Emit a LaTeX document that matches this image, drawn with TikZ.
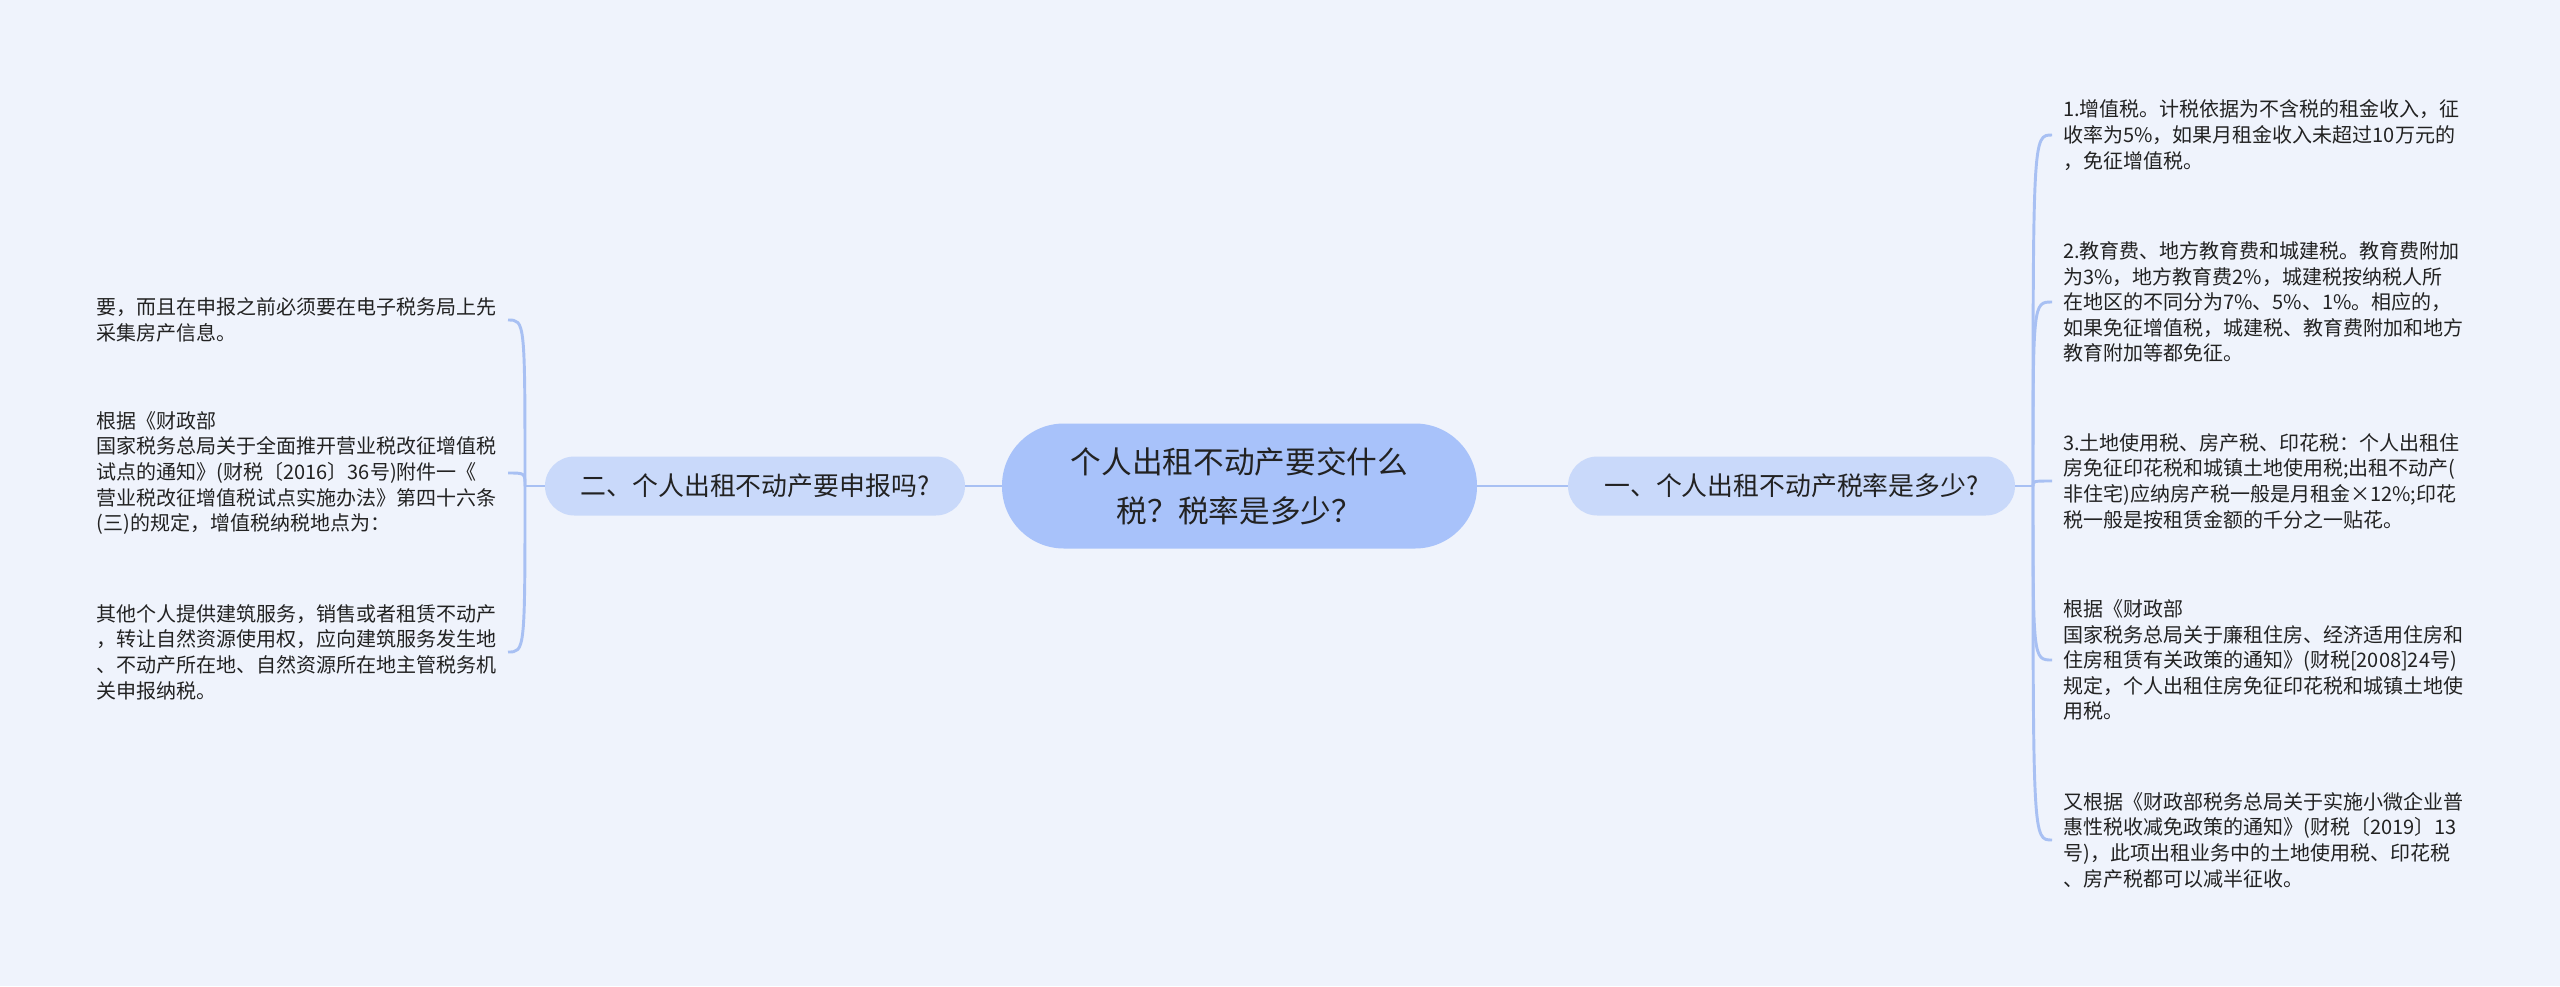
\documentclass[tikz,border=0pt]{standalone}
\usepackage{fontspec}
\setmainfont{Noto Sans CJK SC}
\definecolor{bgc}{RGB}{239,243,252}
\definecolor{rootc}{RGB}{168,194,250}
\definecolor{branchc}{RGB}{201,217,250}
\definecolor{linec}{RGB}{168,192,243}
\definecolor{textc}{RGB}{34,34,34}
\begin{document}
\begin{tikzpicture}[x=0.75pt,y=-0.75pt,
  conn/.style={draw=linec, line width=2.2pt},
  leaf/.style={inner xsep=8.25pt, inner ysep=0pt, text width=300pt, align=left,
    font=\fontsize{15pt}{19.2pt}\selectfont, text=textc},
  branch/.style={fill=branchc, rounded corners=22pt, minimum height=44.25pt,
    inner sep=0pt, font=\fontsize{19.4pt}{24pt}\selectfont, text=textc},
  root/.style={fill=rootc, rounded corners=46.5pt, minimum height=93.75pt,
    minimum width=356.25pt, inner sep=0pt, align=center,
    font=\fontsize{23pt}{37pt}\selectfont, text=textc}]
\fill[bgc] (0,0) rectangle (2560,986);
\useasboundingbox (0,0) rectangle (2560,986);

\node[root] (root) at (1239.5,486) {个人出租不动产要交什么\\税？税率是多少？};
\node[branch, minimum width=315pt] (bl) at (755,486) {二、个人出租不动产要申报吗?};
\node[branch, minimum width=335.25pt] (br) at (1791.5,486) {一、个人出租不动产税率是多少?};

\node[leaf, anchor=east] (l1) at (508,320) {要，而且在申报之前必须要在电子税务局上先\\采集房产信息。};
\node[leaf, anchor=east] (l2) at (508,473) {根据《财政部\\国家税务总局关于全面推开营业税改征增值税\\试点的通知》(财税〔2016〕36号)附件一《\\营业税改征增值税试点实施办法》第四十六条\\(三)的规定，增值税纳税地点为：};
\node[leaf, anchor=east] (l3) at (508,652) {其他个人提供建筑服务，销售或者租赁不动产\\，转让自然资源使用权，应向建筑服务发生地\\、不动产所在地、自然资源所在地主管税务机\\关申报纳税。};

\node[leaf, anchor=west, text width=310pt] (r1) at (2052,135) {1.增值税。计税依据为不含税的租金收入，征\\收率为5\%，如果月租金收入未超过10万元的\\，免征增值税。};
\node[leaf, anchor=west, text width=310pt] (r2) at (2052,302) {2.教育费、地方教育费和城建税。教育费附加\\为3\%，地方教育费2\%，城建税按纳税人所\\在地区的不同分为7\%、5\%、1\%。相应的，\\如果免征增值税，城建税、教育费附加和地方\\教育附加等都免征。};
\node[leaf, anchor=west, text width=310pt] (r3) at (2052,481) {3.土地使用税、房产税、印花税：个人出租住\\房免征印花税和城镇土地使用税;出租不动产(\\非住宅)应纳房产税一般是月租金×12\%;印花\\税一般是按租赁金额的千分之一贴花。};
\node[leaf, anchor=west, text width=310pt] (r4) at (2052,660) {根据《财政部\\国家税务总局关于廉租住房、经济适用住房和\\住房租赁有关政策的通知》(财税[2008]24号)\\规定，个人出租住房免征印花税和城镇土地使\\用税。};
\node[leaf, anchor=west, text width=310pt] (r5) at (2052,840) {又根据《财政部税务总局关于实施小微企业普\\惠性税收减免政策的通知》(财税〔2019〕13\\号)，此项出租业务中的土地使用税、印花税\\、房产税都可以减半征收。};

\coordinate (jl) at (525,486);
\coordinate (jr) at (2033,486);
\draw[conn] (root.west) -- (bl.east);
\draw[conn] (root.east) -- (br.west);
\draw[conn] (bl.west) -- (jl);
\draw[conn] (br.east) -- (jr);
\foreach \n in {l1,l2,l3}
  \draw[conn] (jl) .. controls (jl |- \n.east) .. (\n.east);
\foreach \n in {r1,r2,r3,r4,r5}
  \draw[conn] (jr) .. controls (jr |- \n.west) .. (\n.west);
\end{tikzpicture}
\end{document}
